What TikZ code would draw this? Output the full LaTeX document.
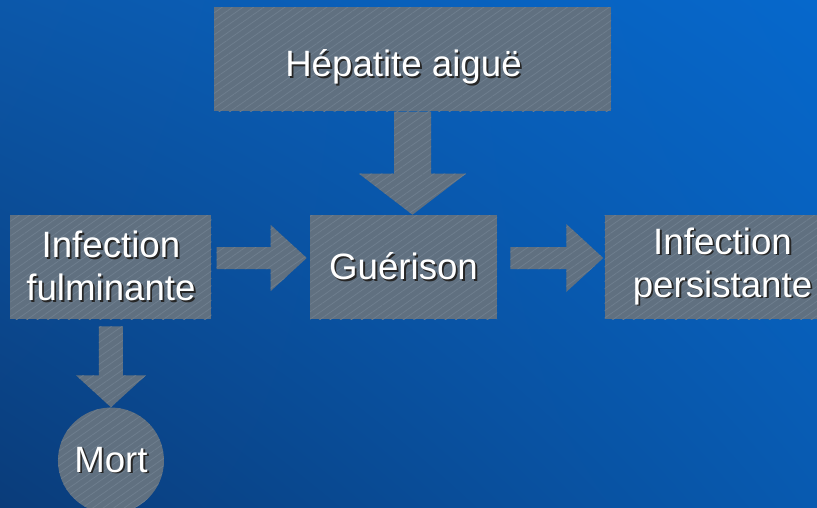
\documentclass[tikz,border=0pt]{standalone}
\usepackage{fontspec}
\setmainfont{Liberation Sans}
\usepackage{xcolor}
\usepackage{tikz}
\usetikzlibrary{positioning,calc,shadings,patterns.meta}
\definecolor{bgul}{RGB}{12,88,170}
\definecolor{bgur}{RGB}{6,104,204}
\definecolor{bgll}{RGB}{10,60,122}
\definecolor{bglr}{RGB}{8,90,176}
\definecolor{boxgray}{RGB}{96,112,128}
\definecolor{hatch}{RGB}{110,126,142}
\newcommand\sh[1]{\rlap{\kern1.4pt\raisebox{-1.4pt}{\color{black!85}#1}}#1}

\begin{document}
\begin{tikzpicture}[
  font=\fontsize{27.5}{32.25}\selectfont,
  hatched/.style={fill=boxgray,postaction={pattern={Lines[angle=35,distance=4.5pt,line width=.6pt]},pattern color=hatch}},
  box/.style={hatched,text=white,inner sep=0pt,minimum height=78pt,align=center},
  rnd/.style={box,circle,minimum size=79.5pt},
  barrow/.style n args={3}{hatched,to path={let \p1=(\tikztostart),\p2=(\tikztotarget),\p3=($(\p2)!#3!(\p1)$) in
    ($(\p1)!#1!90:(\p2)$) -- ($(\p3)!#1!90:(\p2)$) -- ($(\p3)!#2!90:(\p2)$) -- (\p2)
    -- ($(\p3)!#2!-90:(\p2)$) -- ($(\p3)!#1!-90:(\p2)$) -- ($(\p1)!#1!-90:(\p2)$) -- cycle}}
]
\useasboundingbox (0,0) rectangle (612.75pt,-380.25pt);
\clip (0,0) rectangle (612.75pt,-380.25pt);
\shade[upper left=bgul,upper right=bgur,lower left=bgll,lower right=bglr] (0,0) rectangle (612.75pt,-380.25pt);
\node[box,minimum width=140.25pt] (gue) at (302.625pt,-200.25pt) {\sh{Guérison}};
\node[box,minimum width=150.75pt,left=73.5pt of gue] (ful) {\sh{Infection}\\\sh{fulminante}};
\node[box,minimum width=177pt,right=80.25pt of gue] (per) {\sh{Infection}\\\sh{persistante}};
\node[box,minimum width=297.75pt,above=77.25pt of gue,xshift=6.75pt,text height=25.5pt,text depth=0pt] (hep) {\kern-13.5pt\sh{Hépatite aiguë}};
\node[rnd,below=66pt of ful] (mort) {\sh{Mort}};
% block arrows
\path[barrow={13.875pt}{40.125pt}{30.75pt}] (hep.south) to (hep.south |- gue.north);
\path[barrow={8.25pt}{24.75pt}{27pt}] ([xshift=3.75pt,yshift=6.75pt]ful.east) to ([xshift=-2.25pt,yshift=6.75pt]gue.west);
\path[barrow={8.25pt}{25.5pt}{27.75pt}] ([xshift=9.75pt,yshift=6.75pt]gue.east) to ([xshift=-.75pt,yshift=6.75pt]per.west);
\path[barrow={9pt}{26.25pt}{24pt}] ([yshift=-5.25pt]ful.south) to (ful.south |- mort.north);
\end{tikzpicture}
\end{document}
